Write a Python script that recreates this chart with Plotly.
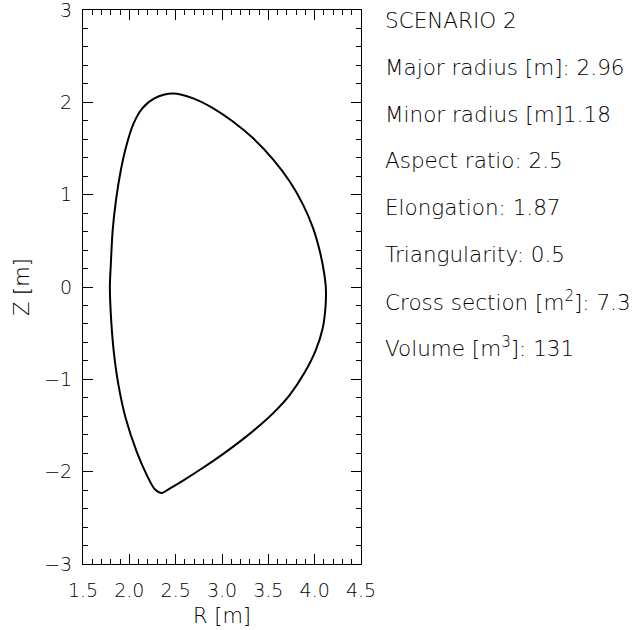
import plotly.graph_objects as go

# Plasma boundary (R, Z) in metres (closed contour starting at the X-point)
R = [2.352, 2.275, 2.19, 2.078, 1.96, 1.883, 1.832, 1.803, 1.79, 1.80, 1.82, 1.856,
     1.908, 1.965, 2.045, 2.14, 2.27, 2.47, 2.69, 2.906, 3.121, 3.337, 3.553, 3.733,
     3.877, 3.984, 4.057, 4.10, 4.12, 4.118, 4.086, 4.01, 3.89, 3.73, 3.55, 3.44,
     3.23, 3.01, 2.795, 2.58, 2.435, 2.352]
Z = [-2.23, -2.19, -2.04, -1.78, -1.42, -1.063, -0.70, -0.34, 0.0, 0.24, 0.61, 0.94,
     1.264, 1.52, 1.77, 1.935, 2.043, 2.095, 2.043, 1.935, 1.79, 1.61, 1.38, 1.14,
     0.887, 0.635, 0.381, 0.165, 0.0, -0.2, -0.45, -0.69, -0.93, -1.171, -1.369, -1.471,
     -1.645, -1.81, -1.958, -2.096, -2.183, -2.23]

x_ticks = [1.5, 2.0, 2.5, 3.0, 3.5, 4.0, 4.5]
y_ticks = [-3, -2, -1, 0, 1, 2, 3]

info_lines = [
    "SCENARIO 2",
    "Major radius [m]: 2.96",
    "Minor radius [m]1.18",
    "Aspect ratio: 2.5",
    "Elongation: 1.87",
    "Triangularity: 0.5",
    "Cross section [m<sup>2</sup>]: 7.3",
    "Volume [m<sup>3</sup>]: 131",
]

FONT = "DejaVu Sans"
WEIGHT = 200
W, H = 640, 630
L, RM, T, B = 83, 279, 10, 66
plot_h = H - T - B

fig = go.Figure()
fig.add_trace(go.Scatter(x=R, y=Z, mode="lines",
                         line=dict(color="black", width=2, shape="spline", smoothing=0.9),
                         showlegend=False, hoverinfo="skip"))

axis_common = dict(showline=True, linecolor="black", linewidth=1, mirror="allticks",
                   ticks="inside", ticklen=10, tickcolor="black", tickwidth=1,
                   showgrid=False, zeroline=False, ticklabeloverflow="allow",
                   tickfont=dict(family=FONT, size=19, color="black", weight=WEIGHT))

fig.update_xaxes(range=[1.5, 4.5], tickvals=x_ticks,
                 ticktext=[f"{v:.1f}" for v in x_ticks],
                 ticklabelstandoff=9,
                 minor=dict(ticks="inside", ticklen=5, dtick=0.1, tick0=1.5,
                            tickcolor="black", showgrid=False),
                 title=dict(text="R [m]",
                            font=dict(family=FONT, size=21, color="black", weight=WEIGHT),
                            standoff=8),
                 **axis_common)
fig.update_yaxes(range=[-3, 3], tickvals=y_ticks,
                 ticklabelstandoff=6,
                 minor=dict(ticks="inside", ticklen=5, dtick=0.2, tick0=-3,
                            tickcolor="black", showgrid=False),
                 title=dict(text="Z [m]",
                            font=dict(family=FONT, size=21, color="black", weight=WEIGHT),
                            standoff=8),
                 **axis_common)

for i, line in enumerate(info_lines):
    y_px = 21 + i * 46.6
    fig.add_annotation(text=line, xref="paper", yref="paper",
                       x=(383 - L) / (W - L - RM), y=1.0 - (y_px - T) / plot_h,
                       xanchor="left", yanchor="middle", showarrow=False,
                       font=dict(family=FONT, size=21.5, color="black", weight=WEIGHT))

fig.update_layout(width=W, height=H,
                  margin=dict(l=L, r=RM, t=T, b=B, autoexpand=False),
                  plot_bgcolor="white", paper_bgcolor="white")

fig.write_html("out.html", config={"displayModeBar": False},
               post_script="document.body.style.margin='0';")
